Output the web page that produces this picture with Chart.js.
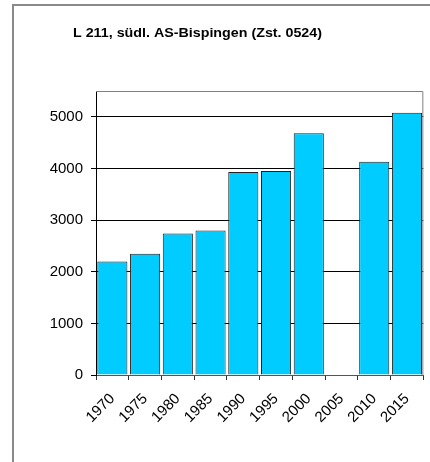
<!DOCTYPE html>
<html>
<head>
<meta charset="utf-8">
<script src="https://cdn.jsdelivr.net/npm/chart.js@4/dist/chart.umd.min.js"></script>
<style>
  html, body { margin: 0; padding: 0; background: #fff; }
  #wrap { width: 430px; height: 462px; position: relative; }
</style>
</head>
<body>
<div id="wrap"><canvas id="c" width="430" height="462"></canvas></div>
<script>
// Traffic counts per survey year (no count in 2005)
const years = ['1970', '1975', '1980', '1985', '1990', '1995', '2000', '2005', '2010', '2015'];
const counts = [2200, 2350, 2740, 2800, 3930, 3950, 4680, null, 4130, 5080];
const yTicks = [0, 1000, 2000, 3000, 4000, 5000];
const chartTitle = 'L 211, südl. AS-Bispingen (Zst. 0524)';

const FONT = '"Liberation Sans", Arial, sans-serif';

// Outer frame, title text and the box around the plot area
const decorations = {
  id: 'decorations',
  beforeDraw(chart) {
    const ctx = chart.ctx;
    ctx.save();
    ctx.strokeStyle = '#8a8a8a';
    ctx.lineWidth = 2;
    ctx.beginPath();
    ctx.moveTo(13, 462);
    ctx.lineTo(13, 5);
    ctx.lineTo(430, 5);
    ctx.stroke();
    ctx.fillStyle = '#000';
    ctx.font = 'bold 12.5px ' + FONT;
    ctx.textBaseline = 'middle';
    // title is set slightly wide
    const w = ctx.measureText(chartTitle).width;
    ctx.translate(73, 33.5);
    ctx.scale(249 / w, 1);
    ctx.fillText(chartTitle, 0, 0);
    ctx.restore();
  },
  afterDatasetsDraw(chart) {
    const a = chart.chartArea;
    const ctx = chart.ctx;
    ctx.save();
    ctx.strokeStyle = '#808080';
    ctx.lineWidth = 1;
    ctx.beginPath();
    ctx.moveTo(a.left, a.top + 0.5);
    ctx.lineTo(a.right - 0.5, a.top + 0.5);
    ctx.lineTo(a.right - 0.5, a.bottom);
    ctx.stroke();
    ctx.restore();
  }
};

new Chart(document.getElementById('c'), {
  type: 'bar',
  data: {
    labels: years,
    datasets: [{
      data: counts,
      backgroundColor: '#00CCFF',
      borderColor: '#222',
      borderWidth: 1,
      barPercentage: 0.92,
      categoryPercentage: 1.0
    }]
  },
  options: {
    responsive: false,
    animation: false,
    layout: { padding: { top: 91, right: 6, left: 0, bottom: 0 } },
    plugins: { legend: { display: false }, tooltip: { enabled: false } },
    scales: {
      x: {
        afterFit(s) { s.height = 87; },
        grid: { offset: true, drawOnChartArea: false, drawTicks: true, tickLength: 5, color: '#333' },
        border: { display: true, color: '#555' },
        ticks: {
          minRotation: 45, maxRotation: 45, padding: 10,
          color: '#000', font: { family: FONT, size: 15 }
        }
      },
      y: {
        min: 0, max: 5500,
        afterFit(s) { s.width = 96; },
        afterBuildTicks(s) { s.ticks = yTicks.map(v => ({ value: v })); },
        grid: { color: '#000', lineWidth: 1, drawTicks: true, tickLength: 5 },
        border: { display: true, color: '#000' },
        ticks: {
          padding: 8, color: '#000', font: { family: FONT, size: 15 },
          callback: v => String(v)
        }
      }
    }
  },
  plugins: [decorations]
});
</script>
</body>
</html>
